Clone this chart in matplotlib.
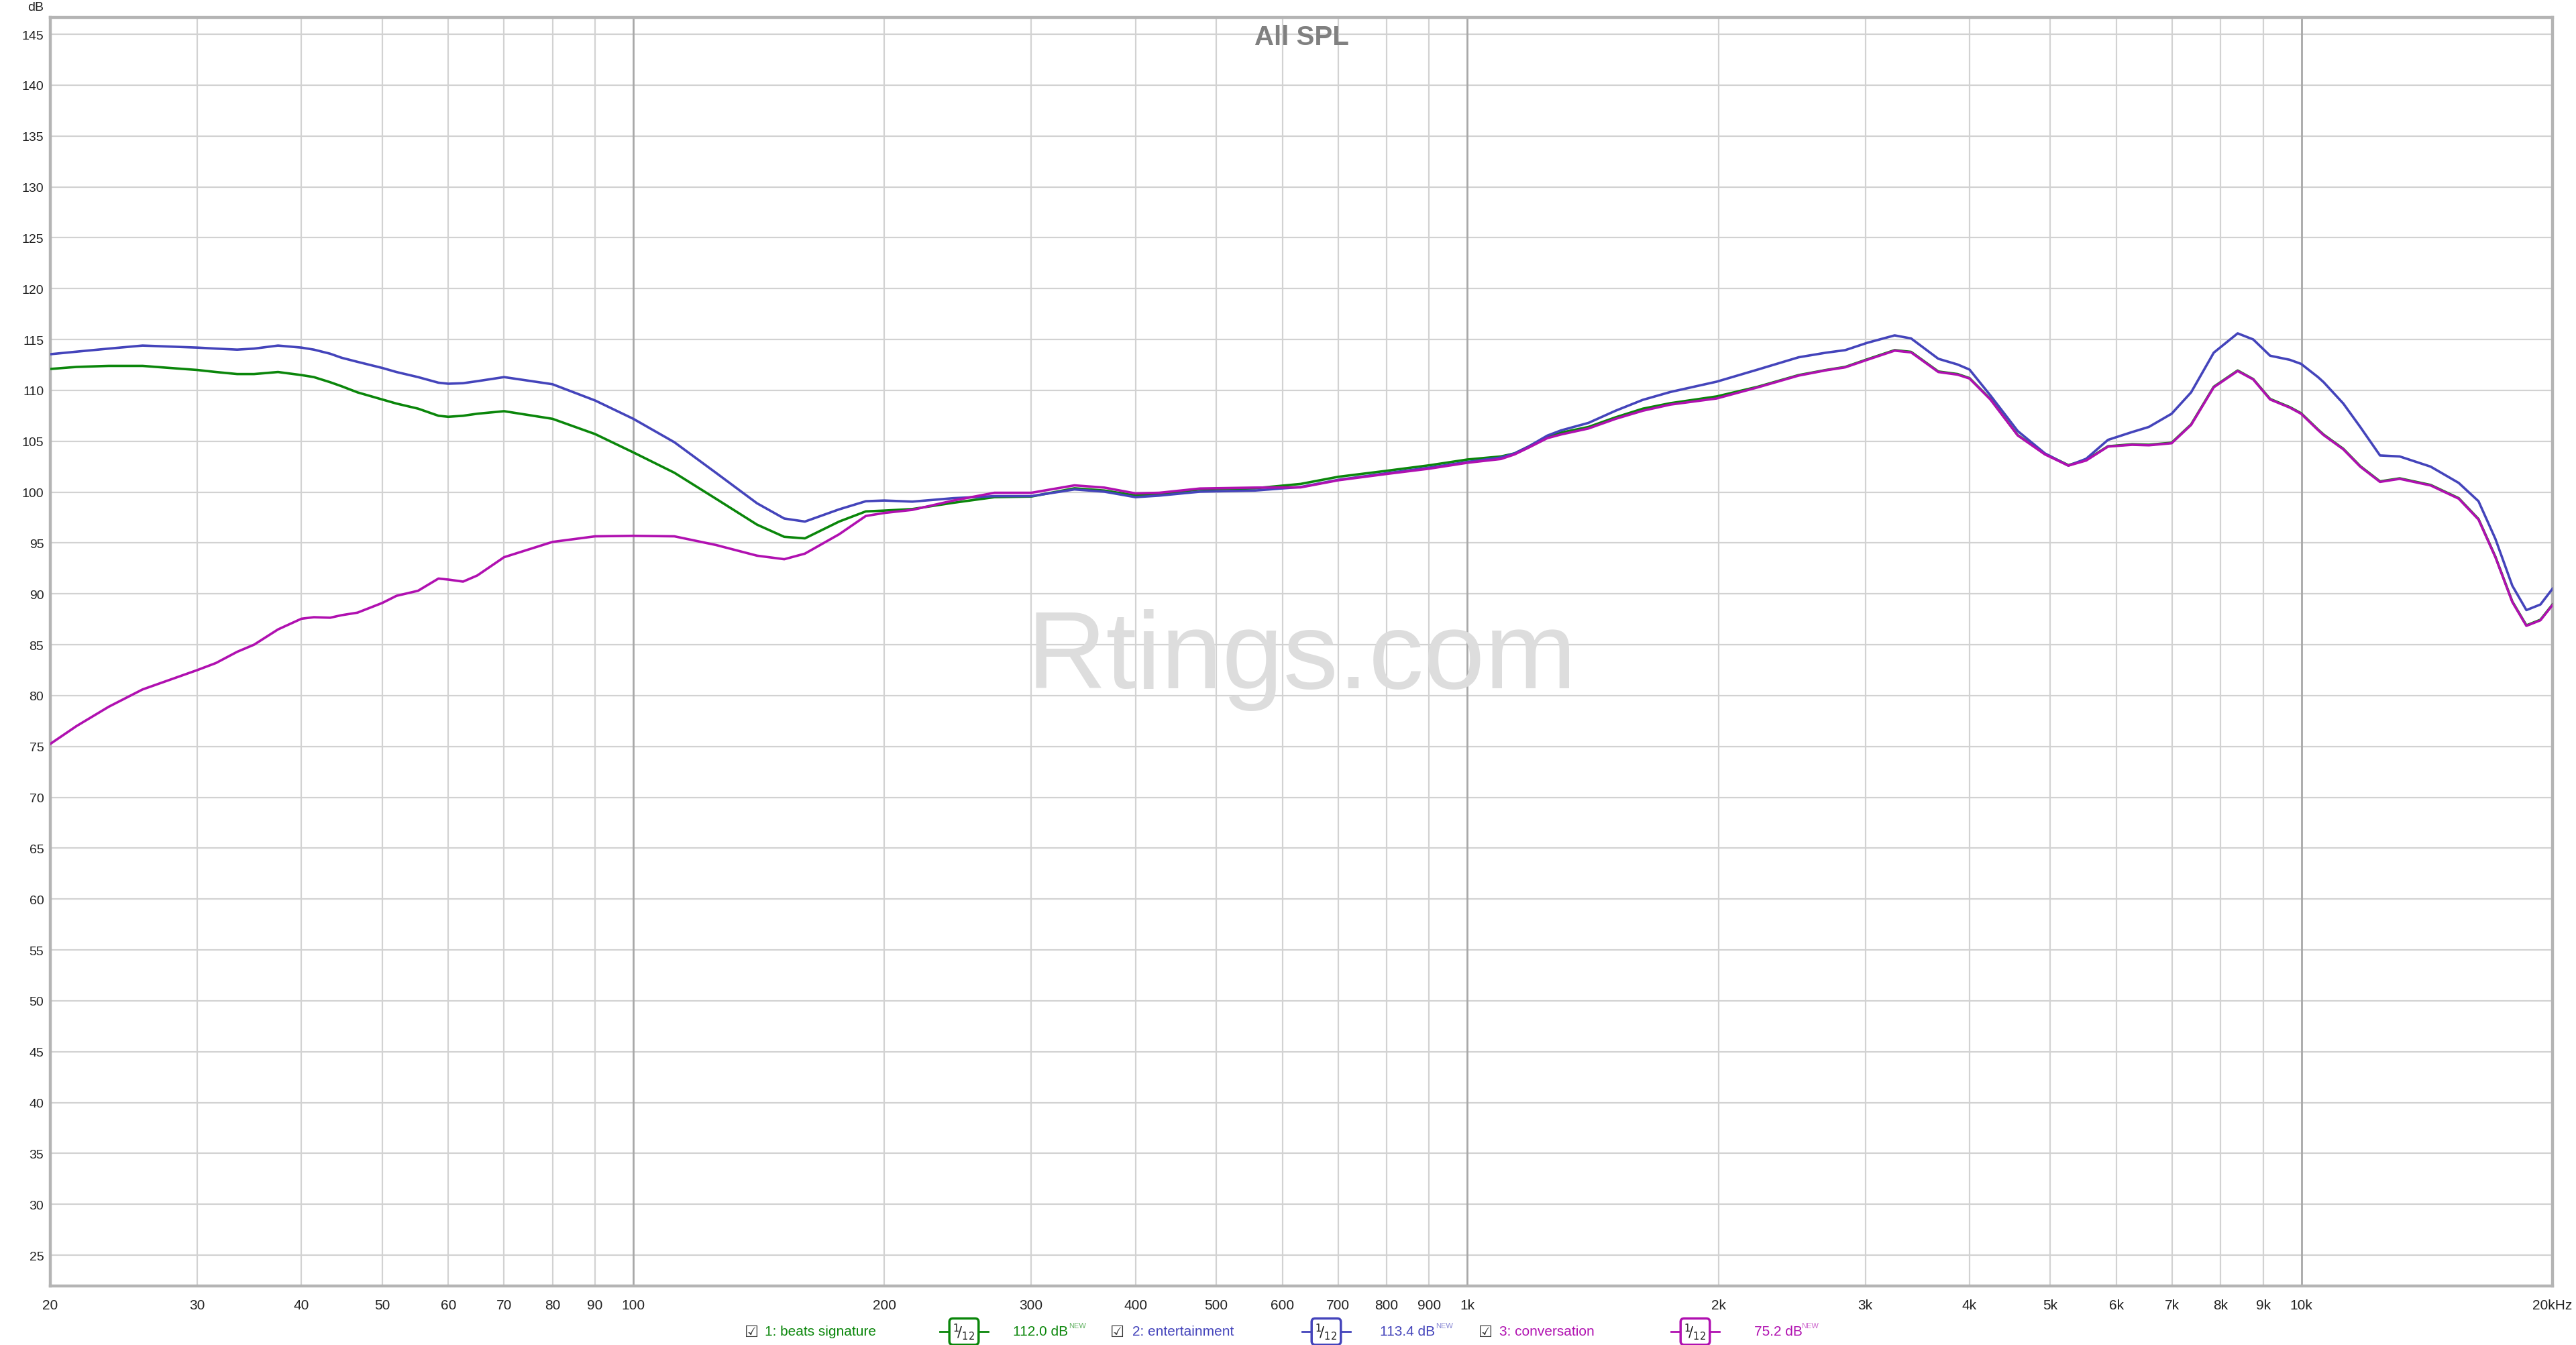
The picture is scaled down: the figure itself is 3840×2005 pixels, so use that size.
import numpy as np
import matplotlib
matplotlib.use("Agg")
import matplotlib.pyplot as plt

plt.rcParams['font.family'] = ['Liberation Sans', 'DejaVu Sans']

# frequency points (Hz)
freq = [20, 21.5, 23.5, 25.8, 30, 31.6, 33.5, 35.1, 37.5, 40, 41.4, 43.3, 44.7, 46.7,
        50, 52, 55.2, 58.4, 60, 62.5, 65, 70, 80, 90, 100, 112, 125.6, 140.7, 151.7,
        160.6, 176.5, 190, 200, 216, 242, 271, 300, 338, 367, 400, 427, 478, 556, 631,
        700, 800, 900, 1000, 1097, 1139, 1183, 1247, 1295, 1397, 1506, 1624, 1752,
        1990, 2229, 2496, 2692, 2838, 3016, 3253, 3404, 3670, 3870, 4000, 4237, 4569,
        4926, 5255, 5519, 5862, 6266, 6562, 6988, 7374, 7850, 8386, 8754, 9172, 9684,
        9990, 10468, 10632, 11226, 11762, 12422, 13116, 14286, 15438, 16304, 17082,
        17898, 18608, 19344, 20000]

beats_signature = [112.1, 112.3, 112.4, 112.4, 112.0, 111.8, 111.6, 111.6, 111.8, 111.5,
                   111.3, 110.8, 110.4, 109.8, 109.1, 108.7, 108.2, 107.5, 107.4, 107.5,
                   107.7, 107.95, 107.2, 105.7, 103.9, 101.9, 99.35, 96.8, 95.6, 95.45,
                   97.1, 98.1, 98.18, 98.33, 98.95, 99.5, 99.56, 100.37, 100.15, 99.67,
                   99.82, 100.26, 100.37, 100.8, 101.5, 102.09, 102.63, 103.2, 103.5,
                   103.8, 104.46, 105.4, 105.84, 106.4, 107.35, 108.2, 108.74, 109.4,
                   110.35, 111.5, 112.0, 112.3, 113.05, 113.95, 113.78, 111.85, 111.6,
                   111.2, 109.15, 105.6, 103.75, 102.65, 103.15, 104.5, 104.7, 104.65,
                   104.85, 106.65, 110.35, 111.95, 111.1, 109.15, 108.35, 107.75, 106.15,
                   105.65, 104.25, 102.55, 101.05, 101.35, 100.7, 99.4, 97.35, 93.65,
                   89.25, 86.9, 87.45, 88.95]

entertainment = [113.55, 113.8, 114.1, 114.4, 114.2, 114.1, 114.0, 114.1, 114.4, 114.2,
                 114.0, 113.6, 113.2, 112.8, 112.2, 111.8, 111.3, 110.75, 110.65, 110.7,
                 110.9, 111.3, 110.6, 109.0, 107.2, 104.9, 101.9, 98.9, 97.4, 97.1,
                 98.3, 99.1, 99.17, 99.06, 99.4, 99.6, 99.6, 100.26, 100.04, 99.5,
                 99.65, 100.04, 100.15, 100.5, 101.2, 101.85, 102.4, 102.96, 103.4,
                 103.8, 104.46, 105.55, 106.06, 106.8, 108.0, 109.07, 109.84, 110.85,
                 112.04, 113.25, 113.7, 113.95, 114.67, 115.4, 115.1, 113.1, 112.54,
                 112.04, 109.5, 106.0, 103.8, 102.6, 103.27, 105.13, 105.9, 106.4,
                 107.7, 109.8, 113.7, 115.6, 115.0, 113.4, 113.0, 112.6, 111.3, 110.8,
                 108.7, 106.4, 103.6, 103.5, 102.5, 100.9, 99.1, 95.4, 90.8, 88.4,
                 88.95, 90.5]

conversation = [75.25, 77.0, 78.9, 80.6, 82.5, 83.2, 84.3, 85.0, 86.5, 87.55, 87.7,
                87.65, 87.9, 88.15, 89.1, 89.8, 90.3, 91.5, 91.4, 91.2, 91.8, 93.6,
                95.1, 95.65, 95.7, 95.65, 94.8, 93.75, 93.4, 93.95, 95.85, 97.65, 97.95,
                98.25, 99.17, 99.93, 99.93, 100.66, 100.44, 99.87, 99.93, 100.35,
                100.44, 100.46, 101.16, 101.78, 102.3, 102.88, 103.25, 103.7, 104.35,
                105.3, 105.66, 106.25, 107.2, 108.0, 108.6, 109.2, 110.29, 111.45,
                111.97, 112.26, 113.0, 113.9, 113.73, 111.8, 111.54, 111.16, 109.1,
                105.57, 103.7, 102.6, 103.1, 104.47, 104.65, 104.6, 104.8, 106.6,
                110.3, 111.9, 111.07, 109.1, 108.3, 107.7, 106.1, 105.6, 104.2, 102.5,
                101.0, 101.3, 100.65, 99.35, 97.3, 93.6, 89.2, 86.85, 87.4, 88.9]

series_names = ["1: beats signature", "2: entertainment", "3: conversation"]
series_levels = ["112.0 dB", "113.4 dB", "75.2 dB"]
series_colors = ["#0a860a", "#4444bb", "#b010b0"]

xtick_freqs = [20, 30, 40, 50, 60, 70, 80, 90, 100, 200, 300, 400, 500, 600, 700, 800,
               900, 1000, 2000, 3000, 4000, 5000, 6000, 7000, 8000, 9000, 10000, 20000]
xtick_labels = ["20", "30", "40", "50", "60", "70", "80", "90", "100", "200", "300",
                "400", "500", "600", "700", "800", "900", "1k", "2k", "3k", "4k", "5k",
                "6k", "7k", "8k", "9k", "10k", "20kHz"]
ytick_vals = list(range(25, 150, 5))

W, H = 3840, 2006
fig = plt.figure(figsize=(W / 100, H / 100), dpi=100)
ax = fig.add_axes([75 / W, 1 - 1918 / H, 3730 / W, 1891 / H])

ax.set_xscale('log')
ax.set_xlim(20, 20000)
ax.set_ylim(21.97, 146.65)

# grid
for y in ytick_vals:
    ax.axhline(y, color='#d2d2d2', lw=1.6, zorder=1)
for f in xtick_freqs[1:-1]:
    if f in (100, 1000, 10000):
        ax.axvline(f, color='#a8a8a8', lw=2.0, zorder=1)
    else:
        ax.axvline(f, color='#d2d2d2', lw=1.6, zorder=1)

ax.text(0.5, 0.494, "Rtings.com", transform=ax.transAxes, ha='center', va='center',
        fontsize=118, color='#dddddd', zorder=2)

for vals, c in zip([beats_signature, entertainment, conversation], series_colors):
    ax.plot(freq, vals, color=c, lw=2.6, zorder=3, solid_joinstyle='round')

ax.set_xticks(xtick_freqs)
ax.set_xticklabels(xtick_labels)
ax.xaxis.set_minor_locator(matplotlib.ticker.NullLocator())
ax.set_yticks(ytick_vals)
ax.tick_params(axis='both', length=0, colors='#222222')
ax.tick_params(axis='x', labelsize=15, pad=14)
ax.tick_params(axis='y', labelsize=14, pad=7)

for s in ax.spines.values():
    s.set_color('#b4b4b4')
    s.set_linewidth(3.2)

fig.text(1940 / W, 1 - 56 / H, "All SPL", ha='center', va='center', fontsize=29,
         fontweight='bold', color='#808080')
fig.text(65 / W, 1 - 12 / H, "dB", ha='right', va='center', fontsize=14, color='#222222')

# legend row
ly = 1 - 1986 / H
checks = [1120, 1665, 2214]
names_x = [1140, 1688, 2235]
icons_x = [1437, 1977, 2527]
levels_x = [1510, 2057, 2615]
new_dx = [83, 83, 70]
for i in range(3):
    c = series_colors[i]
    fig.text(checks[i] / W, ly, "\u2611", ha='center', va='center', fontsize=17,
             color='#333333', family='DejaVu Sans')
    fig.text(names_x[i] / W, ly, series_names[i], ha='left', va='center', fontsize=15,
             color=c)
    fig.add_artist(plt.Line2D([(icons_x[i] - 36) / W, (icons_x[i] + 36) / W], [ly, ly],
                              color=c, lw=2, transform=fig.transFigure))
    fig.text(icons_x[i] / W, ly, r"$^1\!/_{12}$", ha='center', va='center', fontsize=15,
             color='#222222',
             bbox=dict(boxstyle='round,pad=0.25', fc='white', ec=c, lw=2.5))
    fig.text(levels_x[i] / W, ly, series_levels[i], ha='left', va='center',
             fontsize=15, color=c)
    fig.text((levels_x[i] + new_dx[i]) / W, ly + 9 / H, "NEW", ha='left',
             va='center', fontsize=8, color=c, alpha=0.65)

fig.savefig("out.png", dpi=100, facecolor='white')
